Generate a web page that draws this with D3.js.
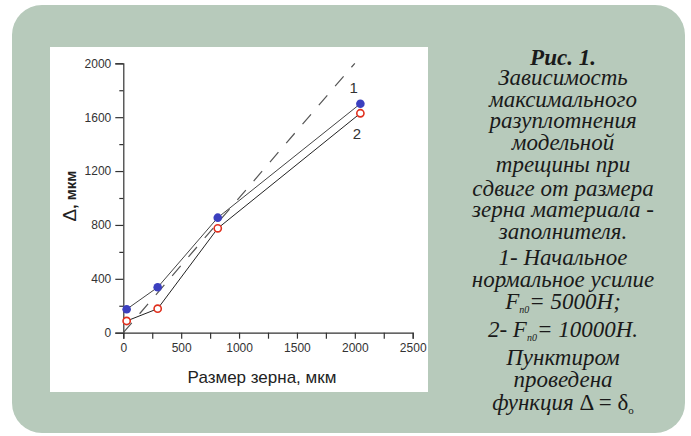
<!DOCTYPE html>
<html><head><meta charset="utf-8">
<script src="https://cdn.jsdelivr.net/npm/d3@7"></script>
<style>body{margin:0;background:#fff;}svg{display:block;}</style>
</head><body>
<svg id="c" width="691" height="436"></svg>
<script>
const grainSize = [29, 297, 816, 2048];
const series1 = [174, 337, 854, 1700];   // Fn0 = 5000H (filled blue)
const series2 = [87, 178, 775, 1629];    // Fn0 = 10000H (open red)
const identityX = [0, 2000];             // dashed Δ = δo
const xTicks = [0, 500, 1000, 1500, 2000, 2500];
const yTicks = [0, 400, 800, 1200, 1600, 2000];
const xMinor = [250, 750, 1250, 1750, 2250];
const yMinor = [200, 600, 1000, 1400, 1800];

const svg = d3.select("#c");
svg.append("rect").attr("x",12).attr("y",5).attr("width",673).attr("height",428)
  .attr("rx",30).attr("fill","#b7cabb");
svg.append("rect").attr("x",50).attr("y",47).attr("width",378).attr("height",345).attr("fill","#fff");

const x = d3.scaleLinear().domain([0,2500]).range([123.3,412.7]);
const y = d3.scaleLinear().domain([0,2000]).range([332.7,63.3]);

const g = svg.append("g");
const xAx = g.append("g").attr("transform",`translate(0,${y(0)})`)
  .call(d3.axisBottom(x).tickValues(xTicks).tickSize(6).tickPadding(5).tickFormat(d3.format("d")));
const xAxMin = g.append("g").attr("transform",`translate(0,${y(0)})`)
  .call(d3.axisBottom(x).tickValues(xMinor).tickSize(6).tickFormat(""));
const yAx = g.append("g").attr("transform",`translate(${x(0)},0)`)
  .call(d3.axisLeft(y).tickValues(yTicks).tickSize(8).tickPadding(4).tickFormat(d3.format("d")));
const yAxMin = g.append("g").attr("transform",`translate(${x(0)},0)`)
  .call(d3.axisLeft(y).tickValues(yMinor).tickSize(4).tickFormat(""));
[xAx,xAxMin,yAx,yAxMin].forEach(a=>{
  a.select(".domain").attr("stroke","#333").attr("stroke-width",1.2);
  a.selectAll(".tick line").attr("stroke","#333").attr("stroke-width",1.2);
  a.selectAll(".tick text").attr("fill","#333").style("font-family","\"Liberation Sans\"").style("font-size","12px");
});
xAxMin.select(".domain").remove();
yAxMin.select(".domain").remove();

g.append("path").datum(identityX)
  .attr("d", d3.line().x(d=>x(d)).y(d=>y(d)))
  .attr("fill","none").attr("stroke","#555").attr("stroke-width",1.2)
  .attr("stroke-dasharray","13,12");

const line = d3.line().x((d,i)=>x(grainSize[i])).y(d=>y(d));
g.append("path").datum(series1).attr("d",line).attr("fill","none").attr("stroke","#444").attr("stroke-width",1);
g.append("path").datum(series2).attr("d",line).attr("fill","none").attr("stroke","#222").attr("stroke-width",1);

g.selectAll(".p1").data(series1).join("circle").attr("class","p1")
  .attr("cx",(d,i)=>x(grainSize[i])).attr("cy",d=>y(d)).attr("r",4.3).attr("fill","#3b3fbf");
g.selectAll(".p2").data(series2).join("circle").attr("class","p2")
  .attr("cx",(d,i)=>x(grainSize[i])).attr("cy",d=>y(d)).attr("r",3.6)
  .attr("fill","#fff").attr("stroke","#e0301e").attr("stroke-width",1.6);

g.append("text").attr("x",x(1990)).attr("y",y(1780)).text("1")
  .style("font-family","\"Liberation Sans\"").style("font-size","15px").attr("fill","#333").attr("text-anchor","middle");
g.append("text").attr("x",x(2018)).attr("y",y(1440)).text("2")
  .style("font-family","\"Liberation Sans\"").style("font-size","15px").attr("fill","#333").attr("text-anchor","middle");

g.append("text").attr("x",262).attr("y",383).attr("text-anchor","middle")
  .style("font-family","\"Liberation Sans\"").style("font-size","17px").attr("fill","#222")
  .text("Размер зерна, мкм");
const yl = g.append("text").attr("transform","translate(76,196) rotate(-90)").attr("text-anchor","middle")
  .style("font-family","\"Liberation Sans\"").style("font-size","15px").style("font-weight","bold").attr("fill","#222");
yl.append("tspan").style("font-size","19px").style("font-weight","normal").text("Δ");
yl.append("tspan").text(", мкм");

const cx = 563;
function capText(yy){
  return svg.append("text").attr("text-anchor","middle").attr("x",cx).attr("y",yy)
    .style("font-family","\"Liberation Serif\"").style("font-style","italic")
    .style("font-size","23px").attr("fill","#1a1a1a");
}
const capLines = [
  ["Рис. 1.", 65, true],
  ["Зависимость", 85],
  ["максимального", 107],
  ["разуплотнения", 128],
  ["модельной", 150],
  ["трещины при", 172],
  ["сдвиге от размера", 196],
  ["зерна материала -", 217],
  ["заполнителя.", 239],
  ["1- Начальное", 265],
  ["нормальное усилие", 287],
  ["Пунктиром", 365],
  ["проведена", 387],
];
capLines.forEach(l=>{
  const t = capText(l[1]).text(l[0]);
  if(l[2]) t.style("font-weight","bold");
});
const c2 = capText(309);
c2.append("tspan").text("F");
c2.append("tspan").attr("dy",4).style("font-size","10px").text("n0");
c2.append("tspan").attr("dy",-4).text("= 5000Н;");
const c3 = capText(337);
c3.append("tspan").text("2- F");
c3.append("tspan").attr("dy",4).style("font-size","10px").text("n0");
c3.append("tspan").attr("dy",-4).text("= 10000Н.");
const c5 = capText(410);
c5.append("tspan").text("функция ");
c5.append("tspan").style("font-style","normal").text("Δ = δ");
c5.append("tspan").attr("dy",4).style("font-size","11px").style("font-style","normal").text("o");
</script>
</body></html>
